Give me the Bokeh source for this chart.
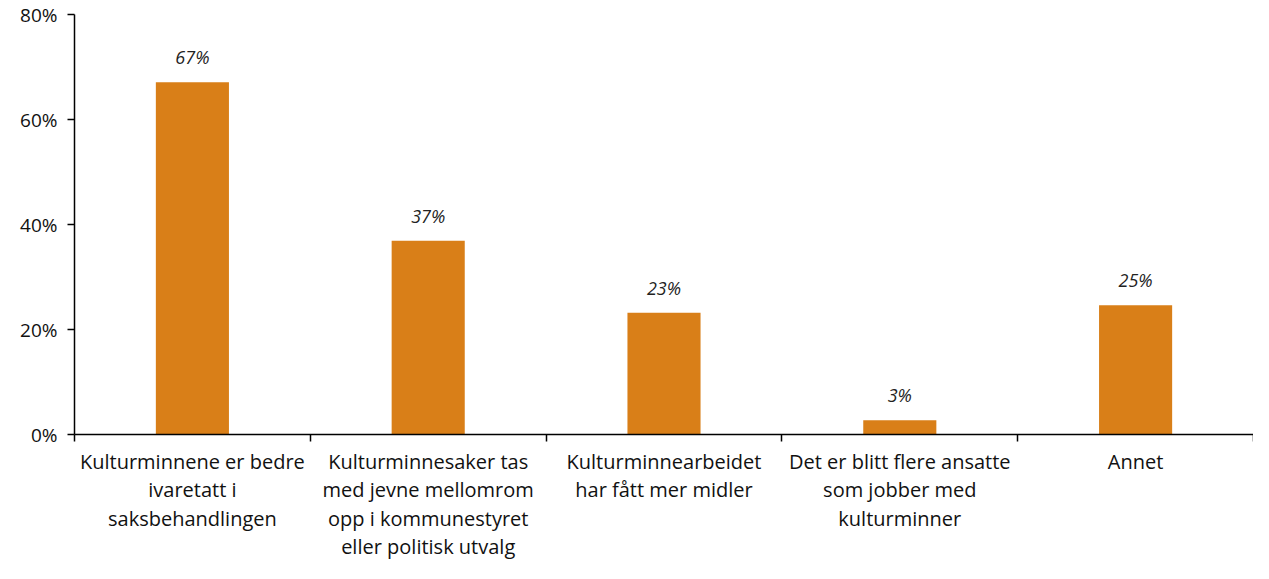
from bokeh.plotting import figure
from bokeh.models import ColumnDataSource, FixedTicker, LinearAxis, Range1d
from bokeh.core.properties import value
from bokeh.embed import file_html
from bokeh.resources import INLINE

categories = [
    "Kulturminnene er bedre\nivaretatt i\nsaksbehandlingen",
    "Kulturminnesaker tas\nmed jevne mellomrom\nopp i kommunestyret\neller politisk utvalg",
    "Kulturminnearbeidet\nhar fått mer midler",
    "Det er blitt flere ansatte\nsom jobber med\nkulturminner",
    "Annet",
]
values = [67.1, 36.9, 23.2, 2.7, 24.6]
labels = ["67%", "37%", "23%", "3%", "25%"]
y_ticks = [0, 20, 40, 60, 80]

FONT = "Open Sans"
COLOR = "#D97F18"

xs = [i + 0.5 for i in range(len(categories))]
src = ColumnDataSource(dict(x=xs, top=values, label=labels))

p = figure(width=1253, height=563, output_backend="svg", toolbar_location=None,
           x_range=Range1d(0, 5), y_range=Range1d(0, 80),
           min_border_left=74, min_border_top=14, min_border_bottom=0, min_border_right=0)
p.outline_line_color = None
p.grid.grid_line_color = None

p.vbar(x="x", top="top", width=0.31, source=src, fill_color=COLOR, line_color=None)
p.text(x="x", y="top", text="label", source=src, y_offset=-13,
       text_align="center", text_baseline="bottom",
       text_font=value(FONT), text_font_style="italic", text_font_size="18px",
       text_color="#222222")

# y axis
ya = p.yaxis[0]
ya.ticker = FixedTicker(ticks=y_ticks)
ya.major_label_overrides = {t: f"{t}%" for t in y_ticks}
ya.major_label_text_font = FONT
ya.major_label_text_font_size = "19px"
ya.major_label_text_color = "#111111"
ya.axis_line_color = "black"
ya.axis_line_width = 1.5
ya.major_tick_line_color = "black"
ya.major_tick_line_width = 1.5
ya.major_tick_out = 7
ya.major_tick_in = 0
ya.minor_tick_line_color = None
ya.major_label_standoff = 10

# x axis: boundary ticks
xa = p.xaxis[0]
xa.ticker = FixedTicker(ticks=[0, 1, 2, 3, 4, 5])
xa.major_label_text_font_size = "0px"
xa.major_label_text_color = None
xa.axis_line_color = "black"
xa.axis_line_width = 1.5
xa.major_tick_line_color = "black"
xa.major_tick_line_width = 1.5
xa.major_tick_out = 7
xa.major_tick_in = 0
xa.minor_tick_line_color = None
xa.major_label_standoff = 0

# category labels axis
ca = LinearAxis(ticker=FixedTicker(ticks=xs))
ca.major_label_overrides = {x: c for x, c in zip(xs, categories)}
ca.major_label_text_font = FONT
ca.major_label_text_font_size = "20px"
ca.major_label_text_line_height = 1.06
ca.major_label_text_color = "#111111"
ca.axis_line_color = None
ca.major_tick_line_color = None
ca.minor_tick_line_color = None
ca.major_label_standoff = 0
p.add_layout(ca, "below")

open("out.html", "w").write(file_html(p, INLINE))
